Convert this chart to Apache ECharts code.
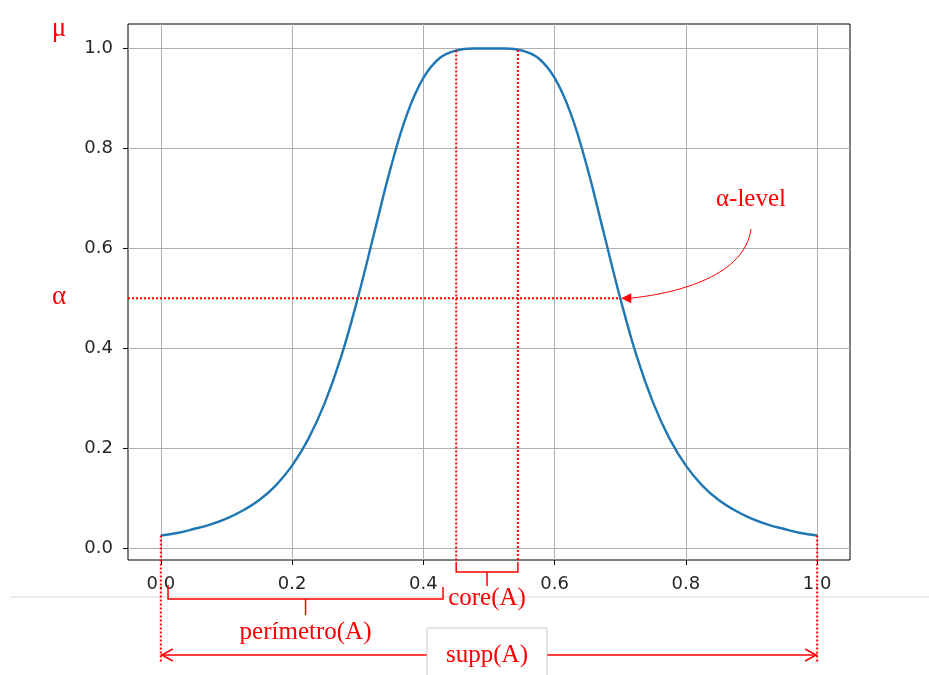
<!DOCTYPE html>
<html>
<head>
<meta charset="utf-8">
<script src="https://cdn.jsdelivr.net/npm/echarts@6/dist/echarts.min.js"></script>
<style>html,body{margin:0;padding:0;background:#fff;}#c{width:929px;height:675px;}</style>
</head>
<body>
<div id="c"></div>
<script>
// membership function samples
const xValues = [0,0.025,0.05,0.075,0.1,0.125,0.15,0.175,0.2,0.225,0.25,0.275,0.3,0.325,0.35,0.375,0.4,0.425,0.45,0.475,0.5,0.525,0.55,0.575,0.6,0.625,0.65,0.675,0.7,0.725,0.75,0.775,0.8,0.825,0.85,0.875,0.9,0.925,0.95,0.975,1.0];
const muValues = [0.025,0.030,0.038,0.047,0.059,0.075,0.096,0.125,0.165,0.219,0.291,0.384,0.5,0.630,0.760,0.868,0.941,0.981,0.996,1.0,1.0,1.0,0.996,0.981,0.941,0.868,0.760,0.630,0.5,0.384,0.291,0.219,0.165,0.125,0.096,0.075,0.059,0.047,0.038,0.030,0.025];
const xTicks = [0,0.2,0.4,0.6,0.8,1.0];
const yTicks = [0,0.2,0.4,0.6,0.8,1.0];
// annotation anchors (data units)
const alphaLevel = 0.5;
const alphaRight = 0.7;
const coreLeft = 0.45, coreRight = 0.544;
const periStart = 0.011, periEnd = 0.43;
const suppStart = 0, suppEnd = 1;

const chart = echarts.init(document.getElementById('c'), null, {renderer:'canvas'});
const tickFont = {fontFamily:'DejaVu Sans', fontSize:18, color:'#262626'};
chart.setOption({
  animation:false,
  grid:{left:128, top:24, right:79, bottom:115, show:true, borderColor:'#000', borderWidth:1, backgroundColor:'transparent'},
  xAxis:{type:'value', min:-0.05, max:1.05,
    axisLine:{show:false, onZero:false},
    axisTick:{show:true, length:5, lineStyle:{color:'#000', width:1}, customValues:xTicks},
    axisLabel:Object.assign({margin:15, customValues:xTicks, formatter:v=>v.toFixed(1)}, tickFont),
    splitLine:{show:true, lineStyle:{color:'#b0b0b0', width:1}}
  },
  yAxis:{type:'value', min:-0.024, max:1.049,
    axisLine:{show:false, onZero:false},
    axisTick:{show:true, length:5, lineStyle:{color:'#000', width:1}, customValues:yTicks},
    axisLabel:Object.assign({margin:15, customValues:yTicks, formatter:v=>v.toFixed(1)}, tickFont),
    splitLine:{show:true, lineStyle:{color:'#b0b0b0', width:1}}
  },
  series:[{type:'line', data:xValues.map((x,i)=>[x,muValues[i]]), smooth:0.4, showSymbol:false,
    lineStyle:{color:'#1f77b4', width:2.4}, z:5}]
});

function px(x,y){return chart.convertToPixel({gridIndex:0},[x,y]);}
const red = '#ff0000';
const dotted = {stroke:red, lineWidth:2, lineDash:[2,2]};
const solid = {stroke:red, lineWidth:1.5, fill:null};
const serif = '"Liberation Serif", "Times New Roman", serif';
const g = [];
function line(x1,y1,x2,y2,style,z){g.push({type:'line', z:z||10, shape:{x1,y1,x2,y2}, style});}
function poly(points,style,z){g.push({type:'polyline', z:z||10, shape:{points}, style});}
function text(t,x,y,size,extra){g.push({type:'text', z:20, style:Object.assign({text:t, x, y, fill:red, font:size+'px '+serif, align:'center', textAlign:'center', verticalAlign:'middle', textVerticalAlign:'middle'}, extra||{})});}

const gridLeft = px(-0.05,0)[0];
// light separator
line(10,597,929,597,{stroke:'#dadada', lineWidth:1},1);
// support dotted verticals
const s0 = px(suppStart, muValues[0]);
const s1 = px(suppEnd, muValues[muValues.length-1]);
line(s0[0],s0[1],s0[0],663,dotted);
line(s1[0],s1[1],s1[0],663,dotted);
// core dotted verticals
const c0 = px(coreLeft, 0.996), c1 = px(coreRight, 0.997);
line(c0[0],c0[1],c0[0],562,dotted);
line(c1[0],c1[1],c1[0],562,dotted);
// alpha level line
const a1 = px(alphaRight, alphaLevel);
line(gridLeft,a1[1],a1[0],a1[1],dotted);
// core bracket
const cm = (c0[0]+c1[0])/2;
poly([[c0[0],562],[c0[0],572],[c1[0],572],[c1[0],562]],solid);
line(cm,572,cm,586,solid);
text('core(A)', cm, 598, 25);
// perimetro bracket
const p0 = px(periStart,0)[0], p1 = px(periEnd,0)[0];
const pm = (p0+p1)/2;
poly([[p0,585],[p0,599],[p1,599],[p1,587]],solid);
line(pm,599,pm,615,solid);
text('perímetro(A)', pm, 632, 25);
// support arrow
line(s0[0],655,s1[0],655,solid);
poly([[s0[0]+12,649],[s0[0]+1,655],[s0[0]+12,661]],solid);
poly([[s1[0]-12,649],[s1[0]-1,655],[s1[0]-12,661]],solid);
g.push({type:'rect', z:15, shape:{x:427,y:628,width:120,height:60}, style:{fill:'#fff', stroke:'#c8c8c8', lineWidth:1}});
text('supp(A)', 487, 655, 25);
// alpha-level curved arrow
g.push({type:'bezierCurve', z:12, shape:{x1:751,y1:229,cpx1:745,cpy1:275,cpx2:680,cpy2:293,x2:a1[0]+10,y2:a1[1]}, style:{stroke:red, lineWidth:1, fill:null}});
g.push({type:'polygon', z:12, shape:{points:[[a1[0]+1,a1[1]],[a1[0]+11,a1[1]-5],[a1[0]+11,a1[1]+5]]}, style:{fill:red}});
text('α-level', 751, 199, 25);
// axis symbols
text('μ', 59, 29, 27);
text('α', 59, 297, 27);

chart.setOption({graphic:g});
</script>
</body>
</html>
